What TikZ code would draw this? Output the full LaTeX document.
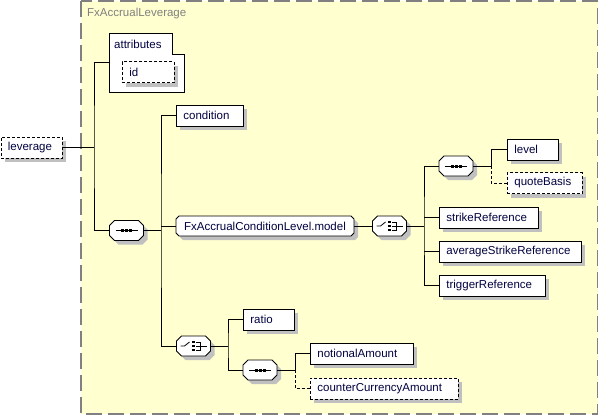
\documentclass[tikz,border=0pt]{standalone}
\usepackage{fontspec}
\setmainfont{Liberation Sans}
\usetikzlibrary{shadows}

\definecolor{bgyellow}{RGB}{255,255,208}
\definecolor{txt}{RGB}{0,0,64}
\definecolor{framegray}{RGB}{128,128,128}
\definecolor{shadowgray}{RGB}{192,192,192}

\tikzset{
  boxshadow/.style={drop shadow={shadow xshift=4pt,shadow yshift=-4pt,fill=shadowgray,opacity=1}},
  elem/.style={draw, fill=white, line width=0.8pt, boxshadow, anchor=west,
    inner xsep=7pt, inner ysep=0pt, minimum height=21pt, text width=#1,
    align=left, text=txt},
  opt/.style={dash pattern=on 3pt off 2pt},
  link/.style={line width=0.8pt}
}

% octagon outline round the origin: half width, corner cut
\newcommand\octpath[2]{(-#1+#2,-10) -- (#1-#2,-10) -- (#1,-10+#2) -- (#1,10-#2)
  -- (#1-#2,10) -- (-#1+#2,10) -- (-#1,10-#2) -- (-#1,-10+#2) -- cycle}

% name, x, y, half width, cut, text
\newcommand\octbox[6]{%
  \fill[shadowgray, shift={(#2+4,#3+4)}] \octpath{#4}{#5};
  \filldraw[fill=white, link, shift={(#2,#3)}] \octpath{#4}{#5};
  \node[inner sep=0pt, minimum width=#4*2pt, minimum height=20pt, text=txt] (#1) at (#2,#3) {#6};
}

\newcommand\seqsym[1]{%
  \draw[link] (#1.center) ++(-11,0) -- ++(22,0);
  \foreach \d in {-4,0,4}
    \fill ([xshift=\d pt]#1.center) +(-1.5,-1.5) rectangle +(1.5,1.5);
}

\newcommand\choicesym[1]{%
  \draw[link] (#1.center) ++(-13,0) -- ++(4,0) -- ++(5,-4);
  \foreach \d in {-4,0,4}
    \fill ([yshift=\d pt]#1.center) +(-1.3,-1.3) rectangle +(1.3,1.3);
  \draw[link] (#1.center) ++(2.5,-4) -- ++(4.5,0) -- ++(0,8) -- ++(-4.5,0);
  \draw[link] (#1.center) ++(2.5,0) -- ++(10.5,0);
}

\begin{document}
\begin{tikzpicture}[x=1pt, y=-1pt, font=\fontsize{11.5}{13}\selectfont]

\useasboundingbox (0,0) rectangle (599,416);

% frame of the complex type
\filldraw[draw=framegray, fill=bgyellow, line width=1.8pt, dash pattern=on 16pt off 6pt]
  (81,0.9) rectangle (597.5,414);
\node[anchor=west, text=framegray, inner sep=0pt] (title) at (87,14) {FxAccrualLeverage};

% attributes
\filldraw[fill=white, line width=0.8pt]
  (109,33) -- (172,33) -- (172,54) -- (184,54) -- (184,92) -- (109,92) -- cycle;
\node[anchor=west, text=txt, inner sep=0pt] (attrtitle) at (114,44) {attributes};
\coordinate (attrs) at (109,62);
\node[elem=38pt, opt] (id) at (122,72) {id};

\node[elem=47.5pt, opt] (leverage) at (0.5,147.5) {leverage};

\octbox{seq1}{126.5}{230.5}{17}{5}{}
\seqsym{seq1}
\node[elem=53pt] (condition) at (176,115.5) {condition};
\octbox{model}{265}{226}{89}{3}{FxAccrualConditionLevel.model}
\octbox{choice1}{389.5}{226}{17}{5}{}
\choicesym{choice1}

\octbox{seq2}{456}{166}{17}{5}{}
\seqsym{seq2}
\node[elem=37pt] (level) at (507,149.5) {level};
\node[elem=61pt, opt] (quote) at (507,183) {quoteBasis};
\node[elem=85pt] (strike) at (439,217.5) {strikeReference};
\node[elem=128pt] (avgstrike) at (439,251.5) {averageStrikeReference};
\node[elem=92pt] (trigger) at (439,285.5) {triggerReference};

\octbox{choice2}{193.5}{346}{17}{5}{}
\choicesym{choice2}
\node[elem=37pt] (ratio) at (243,319.5) {ratio};
\octbox{seq3}{260}{370}{17}{5}{}
\seqsym{seq3}
\node[elem=89pt] (notional) at (310,353.5) {notionalAmount};
\node[elem=134pt, opt] (counter) at (310,388.5) {counterCurrencyAmount};

% junctions
\coordinate (j1) at (94,147.5);
\coordinate (j2) at (161,230.5);
\coordinate (j3) at (424,226);
\coordinate (j4) at (491,166);
\coordinate (j5) at (228,346);
\coordinate (j6) at (295,370);

% connectors
\draw[link] (leverage.east) -- (j1);
\draw[link] (attrs) -| (j1) |- (seq1.west);

\draw[link] (seq1.east) -- (j2);
\draw[link] (condition.west) -| (j2) |- (choice2.west);
\draw[link] (j2 |- model.west) -- (model.west);
\draw[link] (model.east) -- (choice1.west);

\draw[link] (choice1.east) -- (j3);
\draw[link] (seq2.west) -| (j3) |- (trigger.west);
\draw[link] (j3 |- strike.west) -- (strike.west);
\draw[link] (j3 |- avgstrike.west) -- (avgstrike.west);

\draw[link] (seq2.east) -- (j4);
\draw[link] (level.west) -| (j4);
\draw[link, opt] (j4) |- (quote.west);

\draw[link] (choice2.east) -- (j5);
\draw[link] (ratio.west) -| (j5) |- (seq3.west);

\draw[link] (seq3.east) -- (j6);
\draw[link] (notional.west) -| (j6);
\draw[link, opt] (j6) |- (counter.west);

\end{tikzpicture}
\end{document}
